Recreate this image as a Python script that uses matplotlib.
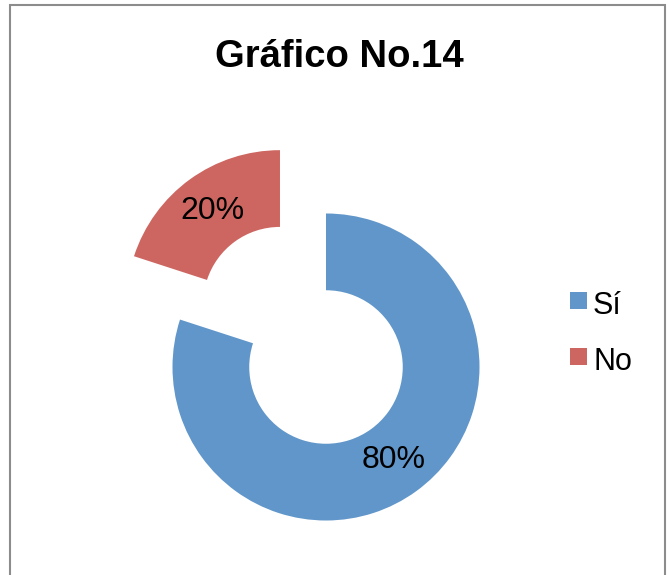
import matplotlib
matplotlib.use("Agg")
import matplotlib.pyplot as plt
from matplotlib.patches import Rectangle

categories = ["Sí", "No"]
values = [80, 20]
colors = ["#6096CA", "#CD6660"]
title = "Gráfico No.14"

W, H = 669, 575
fig = plt.figure(figsize=(W / 100, H / 100), dpi=100)
plt.rcParams['font.family'] = ['Liberation Sans', 'DejaVu Sans']

R = 153.5  # px per data unit
cx, cy = 326, 575 - 367
ax = fig.add_axes([0, 0, 1, 1])

wedges, texts, autotexts = ax.pie(
    values, colors=colors, startangle=90, counterclock=False,
    explode=[0, 0.51], radius=1, autopct='%1.0f%%', pctdistance=0.75,
    wedgeprops=dict(width=0.5, linewidth=0), textprops=dict(fontsize=23, color='black'),
    frame=True)
ax.set_xlim(-cx / R, (W - cx) / R)
ax.set_ylim(-cy / R, (H - cy) / R)
ax.set_aspect('auto')
ax.axis('off')

fig.text(339.5 / W, 1 - 67 / H, title, ha='center', va='baseline', fontsize=27.5, fontweight='bold')

# legend
ys = [300.5, 356.5]
baselines = [314, 370]
for lab, col, y, b in zip(categories, colors, ys, baselines):
    fig.patches.append(Rectangle((570 / W, 1 - (y + 8.5) / H), 17 / W, 17 / H,
                                 transform=fig.transFigure, facecolor=col, edgecolor='none'))
    fig.text(593 / W, 1 - b / H, lab, ha='left', va='baseline', fontsize=22)

# border
fig.patches.append(Rectangle((9.5 / W, -10 / H), (665 - 9.5) / W, (575 - 5 + 10) / H,
                             transform=fig.transFigure, facecolor='none',
                             edgecolor='#8c8c8c', linewidth=1.5, clip_on=False))

fig.savefig("out.png", dpi=100)
